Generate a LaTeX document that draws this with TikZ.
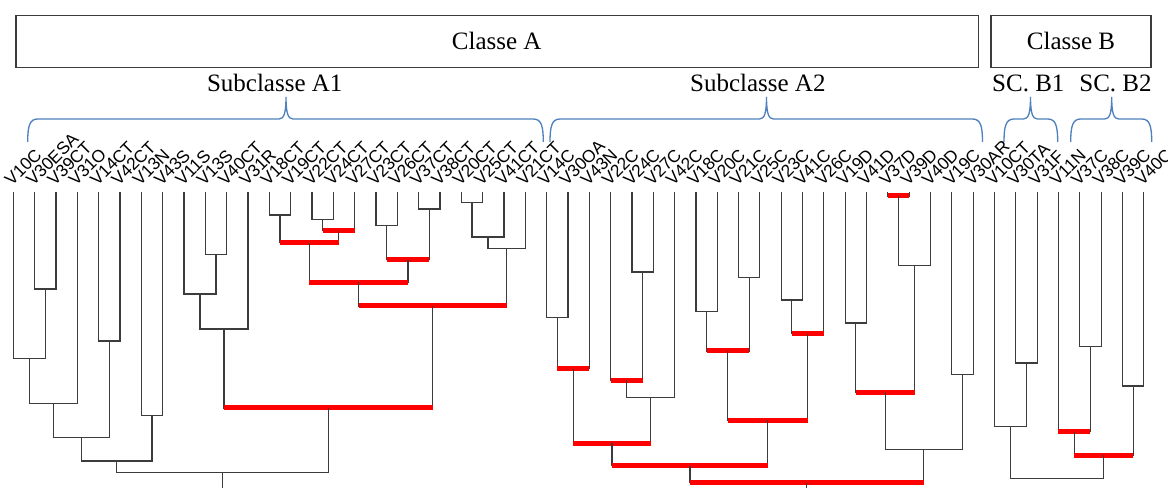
\documentclass[tikz,border=0pt]{standalone}
\usepackage{fontspec}
\setmainfont{Liberation Serif}
\newfontfamily\leaffont{Liberation Sans}
\usetikzlibrary{calc}

\definecolor{dgray}{RGB}{60,60,60}
\definecolor{mred}{RGB}{255,0,0}
\definecolor{bblue}{RGB}{79,129,189}

\tikzset{
  dline/.style={draw=dgray, line width=0.95pt},
  rline/.style={draw=mred, line width=3.75pt},
  bline/.style={draw=bblue, line width=1pt},
  boxline/.style={draw=dgray, line width=1pt},
  leaflab/.style={anchor=base west, rotate=45, inner sep=0pt, font=\leaffont\fontsize{13}{15}\selectfont},
  headlab/.style={anchor=base, inner sep=0pt, font=\fontsize{18.75}{22}\selectfont},
}

% U shaped join of two clusters at height #4, new cluster named #5
\newcommand{\dmerge}[5][dline]{%
  \draw[dline] (#2) -- (#2 |- 0,#4) -- (#3 |- 0,#4) -- (#3);
  \draw[#1] (#2 |- 0,#4) -- (#3 |- 0,#4);
  \coordinate (#5) at ($(#2 |- 0,#4)!0.5!(#3 |- 0,#4)$);
}
% curly brace over a subclass: left end, tip, right end
\newcommand{\subbrace}[3]{%
  \draw[bline] (#1,142) .. controls (#1,126) and (#1+2,119) .. (#1+10,119) -- (#2-7,119) .. controls (#2-2,119) and (#2,113) .. (#2,97) .. controls (#2,113) and (#2+2,119) .. (#2+7,119) -- (#3-10,119) .. controls (#3-2,119) and (#3,126) .. (#3,142);
}

\begin{document}
\begin{tikzpicture}[x=0.75pt,y=0.75pt,yscale=-1,xscale=1]
\useasboundingbox (0,0) rectangle (1168,488);

% Boxes
\draw[boxline] (16,15.7) rectangle (978.3,67.7);
\draw[boxline] (991,15.7) rectangle (1151,67.7);
% Text Node
\node[headlab] (classA) at (496.7,49.3) {Classe A};
\node[headlab] (classB) at (1071,49.3) {Classe B};
\node[headlab] (subA1) at (274.7,91.7) {Subclasse A1};
\node[headlab] (subA2) at (757.8,91.7) {Subclasse A2};
\node[headlab] (scB1) at (1028.3,91.7) {SC. B1};
\node[headlab] (scB2) at (1115.5,91.7) {SC. B2};

% Braces
\subbrace{27.7}{286}{543.3}
\subbrace{550}{766.5}{982.5}
\subbrace{1004}{1030.5}{1057.7}
\subbrace{1070.7}{1111.7}{1151.7}

% Leaves
\foreach \lab [count=\i] in {V10C,V30ESA,V39CT,V31O,V14CT,V42CT,V13N,V43S,V11S,V13S,V40CT,V31R,V18CT,V19CT,V22CT,V24CT,V27CT,V23CT,V26CT,V37CT,V38CT,V20CT,V25CT,V41CT,V21CT,V14C,V30OA,V43N,V22C,V24C,V27C,V42C,V18C,V20C,V21C,V25C,V23C,V41C,V26C,V19D,V41D,V37D,V39D,V40D,V19C,V30AR,V10CT,V30TA,V31F,V11N,V37C,V38C,V39C,V40C}{
  \coordinate (l\i) at ({13.3+(\i-1)*21.33},192);
  \node[leaflab] (t\i) at ($(l\i)+(-1.5,-5)$) {\lab};
}

% Subclasse A1
\dmerge{l2}{l3}{289}{m1}
\dmerge{l1}{m1}{358.3}{m2}
\dmerge{m2}{l4}{403.7}{m3}
\dmerge{l5}{l6}{341}{m4}
\dmerge{m3}{m4}{437.3}{m5}
\dmerge{l7}{l8}{415.7}{m6}
\dmerge{m5}{m6}{461}{m7}
\dmerge{l10}{l11}{254.3}{m8}
\dmerge{l9}{m8}{294}{m9}
\dmerge{m9}{l12}{329}{m10}
\dmerge{l13}{l14}{215}{m11}
\dmerge{l15}{l16}{219.3}{m12}
\dmerge[rline]{m12}{l17}{230.7}{m13}
\dmerge[rline]{m11}{m13}{242.7}{m14}
\dmerge{l18}{l19}{225.3}{m15}
\dmerge{l20}{l21}{209}{m16}
\dmerge[rline]{m15}{m16}{259.7}{m17}
\dmerge[rline]{m14}{m17}{282.3}{m18}
\dmerge{l22}{l23}{202.3}{m19}
\dmerge{m19}{l24}{237}{m20}
\dmerge{m20}{l25}{248.3}{m21}
\dmerge[rline]{m18}{m21}{306}{m22}
\dmerge[rline]{m10}{m22}{408}{m23}
\dmerge{m7}{m23}{472.7}{m24}
\draw[dline] (m24) -- (m24 |- 0,488);

% Subclasse A2
\dmerge{l26}{l27}{317.3}{n1}
\dmerge[rline]{n1}{l28}{368.7}{n2}
\dmerge{l30}{l31}{272}{n3}
\dmerge[rline]{l29}{n3}{380.3}{n4}
\dmerge{n4}{l32}{397.7}{n5}
\dmerge[rline]{n2}{n5}{443.3}{n6}
\dmerge{l33}{l34}{311.7}{n7}
\dmerge{l35}{l36}{277.5}{n8}
\dmerge[rline]{n7}{n8}{351}{n9}
\dmerge{l37}{l38}{300}{n10}
\dmerge[rline]{n10}{l39}{333.7}{n11}
\dmerge[rline]{n9}{n11}{420}{n12}
\dmerge[rline]{n6}{n12}{465.7}{n13}
\dmerge{l40}{l41}{323}{n14}
\dmerge[rline]{l42}{l43}{196}{n15}
\dmerge{n15}{l44}{265.7}{n16}
\dmerge[rline]{n14}{n16}{392.3}{n17}
\dmerge{l45}{l46}{374.7}{n18}
\dmerge{n17}{n18}{449.3}{n19}
\dmerge[rline]{n13}{n19}{482.7}{n20}
\draw[dline] (n20) -- (n20 |- 0,488);

% Classe B
\dmerge{l48}{l49}{363}{b1}
\dmerge{l47}{b1}{426.7}{b2}
\dmerge{l51}{l52}{346.7}{b3}
\dmerge[rline]{l50}{b3}{431.7}{b4}
\dmerge{l53}{l54}{386}{b5}
\dmerge[rline]{b4}{b5}{455}{b6}
\dmerge{b2}{b6}{478.3}{b7}

\end{tikzpicture}
\end{document}
